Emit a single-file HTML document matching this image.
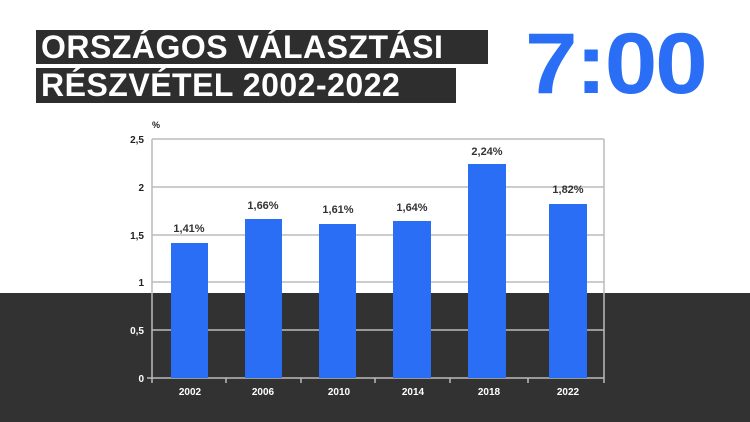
<!DOCTYPE html>
<html><head><meta charset="utf-8"><style>
body{margin:0;width:750px;height:422px;overflow:hidden;background:#fff;position:relative;font-family:"Liberation Sans",sans-serif}
.band{position:absolute;left:0;top:293px;width:750px;height:129px;background:#323232}
.t{position:absolute;left:36px;background:#2e2e2e;color:#fff;font-weight:bold;font-size:32px;line-height:34px;padding:0 5px;white-space:nowrap;letter-spacing:0.5px}
.clock{position:absolute;left:525px;top:21px;color:#2a6ef5;font-weight:bold;font-size:86px;line-height:86px;letter-spacing:-2px;transform:scaleX(1.1);transform-origin:left top}
svg{position:absolute;left:0;top:0}
</style></head><body>
<div class="band"></div>
<div class="t" style="top:30px;width:442px">ORSZÁGOS VÁLASZTÁSI</div>
<div class="t" style="top:68px;width:410px;height:35px">RÉSZVÉTEL 2002-2022</div>
<div class="clock">7:00</div>
<svg width="750" height="422" font-family="Liberation Sans,sans-serif" font-weight="bold">
<g stroke="#bbb" stroke-width="1.5">
<line x1="152" y1="139" x2="604" y2="139"/><line x1="152" y1="187" x2="604" y2="187"/>
<line x1="152" y1="235" x2="604" y2="235"/><line x1="152" y1="282" x2="604" y2="282"/>
<line x1="152" y1="330" x2="604" y2="330"/><line x1="604" y1="139" x2="604" y2="378"/>
<line x1="152" y1="139" x2="152" y2="383"/><line x1="147" y1="378" x2="604" y2="378"/>
<line x1="226" y1="378" x2="226" y2="383"/><line x1="301" y1="378" x2="301" y2="383"/><line x1="375" y1="378" x2="375" y2="383"/><line x1="450" y1="378" x2="450" y2="383"/><line x1="528" y1="378" x2="528" y2="383"/><line x1="604" y1="378" x2="604" y2="383"/>
</g>
<g fill="#2a6ef5">
<rect x="171" y="243" width="37" height="135"/><rect x="245" y="219" width="37" height="159"/>
<rect x="319" y="224" width="37" height="154"/><rect x="393" y="221" width="38" height="157"/>
<rect x="468" y="164" width="38" height="214"/><rect x="549" y="204" width="38" height="174"/>
</g>
<g font-size="11" fill="#333" text-anchor="middle">
<text x="189" y="232">1,41%</text><text x="263" y="209">1,66%</text><text x="338" y="213">1,61%</text>
<text x="412" y="211">1,64%</text><text x="487" y="155">2,24%</text><text x="568" y="193">1,82%</text>
</g>
<g font-size="10" fill="#222" text-anchor="end">
<text x="144" y="143">2,5</text><text x="144" y="191">2</text><text x="144" y="239">1,5</text><text x="144" y="286">1</text>
</g>
<text x="152" y="128" font-size="9" fill="#222">%</text>
<g font-size="10" fill="#fff" text-anchor="end">
<text x="144" y="334">0,5</text><text x="144" y="382">0</text>
</g>
<g font-size="10" fill="#fff" text-anchor="middle">
<text x="190" y="395">2002</text><text x="263" y="395">2006</text><text x="339" y="395">2010</text>
<text x="413" y="395">2014</text><text x="489" y="395">2018</text><text x="568" y="395">2022</text>
</g>
</svg>
</body></html>
